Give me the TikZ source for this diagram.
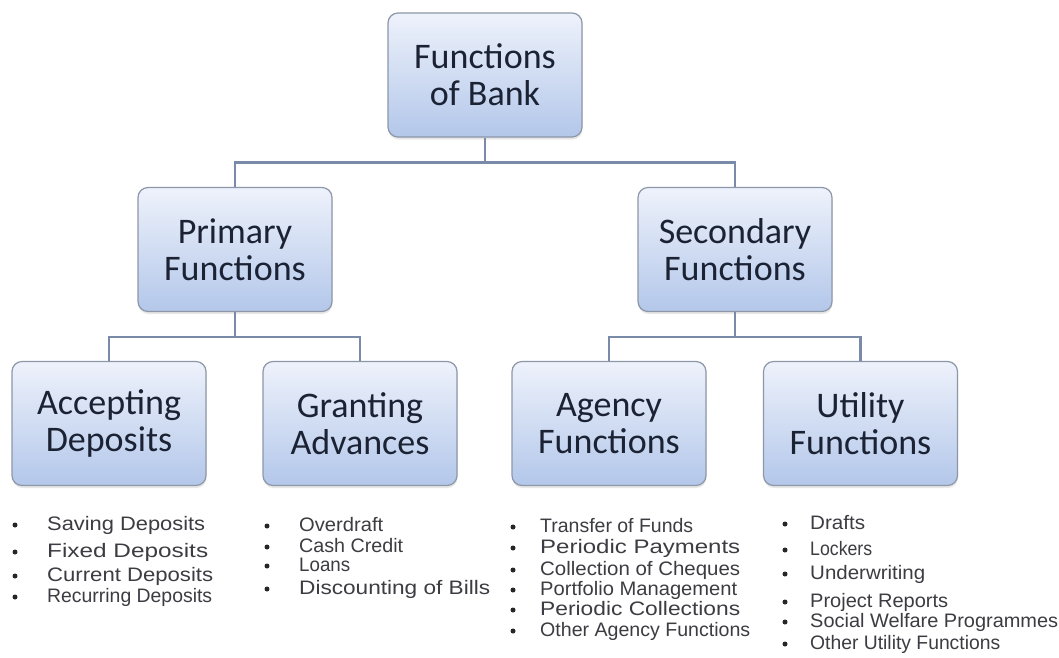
\documentclass[tikz,border=0pt]{standalone}
\usepackage{fontspec}
\setmainfont{Carlito}
\newfontfamily\listfont{Liberation Sans}
\usetikzlibrary{shadows}
\definecolor{boxtop}{HTML}{EEF2FB}
\definecolor{boxbot}{HTML}{B3C7EA}
\definecolor{boxline}{HTML}{8D97A8}
\definecolor{boxtext}{HTML}{1B2233}
\definecolor{conn}{HTML}{7A8AA9}
\definecolor{listtext}{HTML}{3C3C42}
\newcommand\fitw[2]{\resizebox{#1pt}{\height}{#2}}
\tikzset{
  fbox/.style={draw=boxline, line width=1.2pt, rounded corners=10pt,
    top color=boxtop, bottom color=boxbot, minimum width=194pt, minimum height=124pt,
    align=center, text=boxtext, font=\fontsize{36}{37}\selectfont,
    drop shadow={opacity=0.18, shadow xshift=0.5pt, shadow yshift=-2.5pt}},
  link/.style={draw=conn, line width=2.4pt},
  litem/.style={anchor=west, inner sep=0pt, text=listtext, font=\listfont\fontsize{19.5}{21}\selectfont,
    text height=14pt, text depth=4pt},
  bul/.style={circle, fill=black!85, inner sep=0pt, minimum size=5pt}
}
\begin{document}
\begin{tikzpicture}[x=1pt,y=-1pt]
\useasboundingbox[fill=white] (0,0) rectangle (1059,657);
% boxes
\node[fbox] (top) at (485,75) {Functions\\of Bank};
\node[fbox] (prim) at (235,249.5) {Primary\\Functions};
\node[fbox] (sec) at (735,249.5) {Secondary\\Functions};
\node[fbox] (acc) at (109,423.5) {Accepting\\Deposits};
\node[fbox] (gra) at (360,423.5) {Granting\\Advances};
\node[fbox] (agy) at (609,423.5) {Agency\\Functions};
\node[fbox] (uti) at (860.5,423.5) {Utility\\Functions};
% connectors
\draw[link] (top.south) -- ++(0,25) -| (prim.north);
\draw[link] (top.south) -- ++(0,25) -| (sec.north);
\draw[link] (prim.south) -- ++(0,25) -| (acc.north);
\draw[link] (prim.south) -- ++(0,25) -| (gra.north);
\draw[link] (sec.south) -- ++(0,25) -| (agy.north);
\draw[link] (sec.south) -- ++(0,25) -| (uti.north);
% lists
\foreach \y/\w/\t [count=\i] in {525/158/Saving Deposits, 552/161/Fixed Deposits, 576/166/Current Deposits, 597/165/Recurring Deposits}{
  \node[bul] (ba\i) at (15,\y) {};
  \node[litem] (la\i) at (47,\y) {\fitw{\w}{\t}};
}
\foreach \y/\w/\t [count=\i] in {526/84/Overdraft, 547/104/Cash Credit, 566/51/Loans, 589/191/Discounting of Bills}{
  \node[bul] (bb\i) at (267,\y) {};
  \node[litem] (lb\i) at (299,\y) {\fitw{\w}{\t}};
}
\foreach \y/\w/\t [count=\i] in {527/153/Transfer of Funds, 548/200/Periodic Payments, 570/200/Collection of Cheques, 590/197/Portfolio Management, 610/200/Periodic Collections, 631/210/Other Agency Functions}{
  \node[bul] (bc\i) at (513,\y) {};
  \node[litem] (lc\i) at (540,\y) {\fitw{\w}{\t}};
}
\foreach \y/\w/\t [count=\i] in {524/55/Drafts, 550/62/Lockers, 574/115/Underwriting, 602/138/Project Reports, 622/248/Social Welfare Programmes, 644/190/Other Utility Functions}{
  \node[bul] (bd\i) at (785,\y) {};
  \node[litem] (ld\i) at (810,\y) {\fitw{\w}{\t}};
}
\end{tikzpicture}
\end{document}
